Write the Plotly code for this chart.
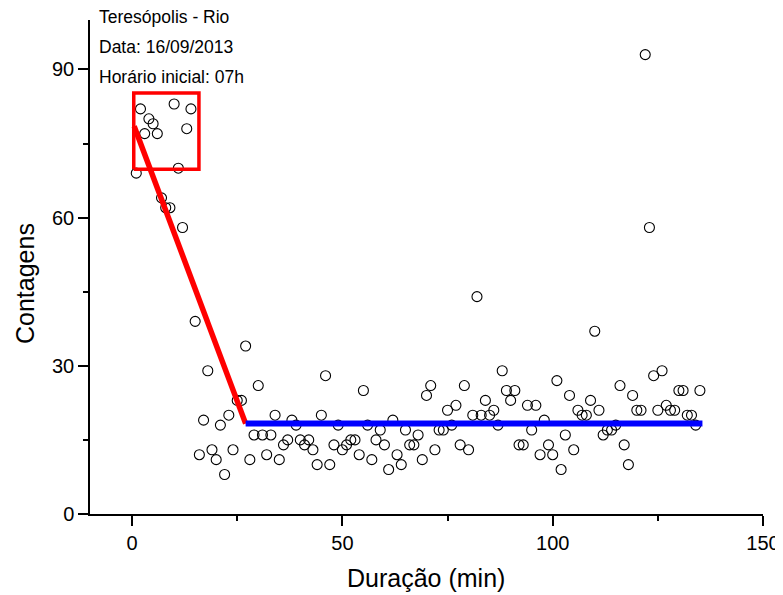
import plotly.graph_objects as go

# Data
minutes = list(range(1, 136))
counts = [69, 82, 77, 80, 79, 77, 64, 62, 62, 83, 70, 58, 78, 82, 39, 12, 19, 29, 13, 11,
          18, 8, 20, 13, 23, 23, 34, 11, 16, 26, 16, 12, 16, 20, 11, 14, 15, 19, 18, 15,
          14, 15, 13, 10, 20, 28, 10, 14, 18, 13, 14, 15, 15, 12, 25, 18, 11, 15, 17, 14,
          9, 19, 12, 10, 17, 14, 14, 16, 11, 24, 26, 13, 17, 17, 21, 18, 22, 14, 26, 13,
          20, 44, 20, 23, 20, 21, 18, 29, 25, 23, 25, 14, 14, 22, 17, 22, 12, 19, 14, 12,
          27, 9, 16, 24, 13, 21, 20, 20, 23, 37, 21, 16, 17, 17, 18, 26, 14, 10, 24, 21,
          21, 93, 58, 28, 21, 29, 22, 21, 21, 25, 25, 20, 20, 18, 25]

decay_x = [0.5, 27]
decay_y = [78.5, 18.3]
plateau_x = [27, 135.6]
plateau_y = [18.3, 18.3]
box_x = [0.4, 15.9, 15.9, 0.4, 0.4]
box_y = [69.8, 69.8, 85.2, 85.2, 69.8]

info_lines = ["Teresópolis - Rio", "Data: 16/09/2013", "Horário inicial: 07h"]
x_ticks = [0, 50, 100, 150]
y_ticks = [0, 30, 60, 90]

FONT = "Arial, Liberation Sans, sans-serif"

fig = go.Figure()
fig.add_trace(go.Scatter(x=minutes, y=counts, mode="markers",
                         marker=dict(symbol="circle-open", size=10, color="black",
                                     line=dict(width=1.1, color="black")),
                         showlegend=False, cliponaxis=False))
fig.add_trace(go.Scatter(x=box_x, y=box_y, mode="lines",
                         line=dict(color="#ff0000", width=3.5), showlegend=False))
fig.add_trace(go.Scatter(x=decay_x, y=decay_y, mode="lines",
                         line=dict(color="#ff0000", width=5.5), showlegend=False))
fig.add_trace(go.Scatter(x=plateau_x, y=plateau_y, mode="lines",
                         line=dict(color="#0000ff", width=6), showlegend=False))

axis_common = dict(showline=True, linecolor="black", linewidth=1.5, showgrid=False,
                   zeroline=False, ticks="outside", ticklen=10, tickwidth=1.5,
                   tickcolor="black", tickfont=dict(family=FONT, size=20, color="black"),
                   automargin=False, ticklabeloverflow="allow")

fig.update_xaxes(range=[-10, 150], tickvals=x_ticks,
                 minor=dict(tickvals=[25, 75, 125], ticks="outside", ticklen=5,
                            tickwidth=1.5, tickcolor="black"),
                 **axis_common)
fig.update_yaxes(range=[0, 100], tickvals=y_ticks,
                 minor=dict(tickvals=[15, 45, 75], ticks="outside", ticklen=5,
                            tickwidth=1.5, tickcolor="black"),
                 **axis_common)

annotations = []
ys = [1.006, 0.9453, 0.8856]
for txt, yp in zip(info_lines, ys):
    annotations.append(dict(text=txt, xref="paper", yref="paper", x=0.0104, y=yp,
                            xanchor="left", yanchor="middle", showarrow=False,
                            font=dict(family=FONT, size=17.5, color="black")))
annotations.append(dict(text="Duração (min)", xref="paper", yref="paper", x=0.4993, y=-0.1296,
                        xanchor="center", yanchor="middle", showarrow=False,
                        font=dict(family=FONT, size=25, color="black")))
annotations.append(dict(text="Contagens", xref="paper", yref="paper", x=-0.0966, y=0.4676,
                        xanchor="center", yanchor="middle", showarrow=False, textangle=-90,
                        font=dict(family=FONT, size=25, color="black")))

# page body adds an 8px offset; size the figure so it ends at the window edge
fig.update_layout(width=775, height=587, margin=dict(l=82, r=20, t=12, b=81),
                  paper_bgcolor="white", plot_bgcolor="white",
                  annotations=annotations, showlegend=False)

fig.write_html("out.html")
